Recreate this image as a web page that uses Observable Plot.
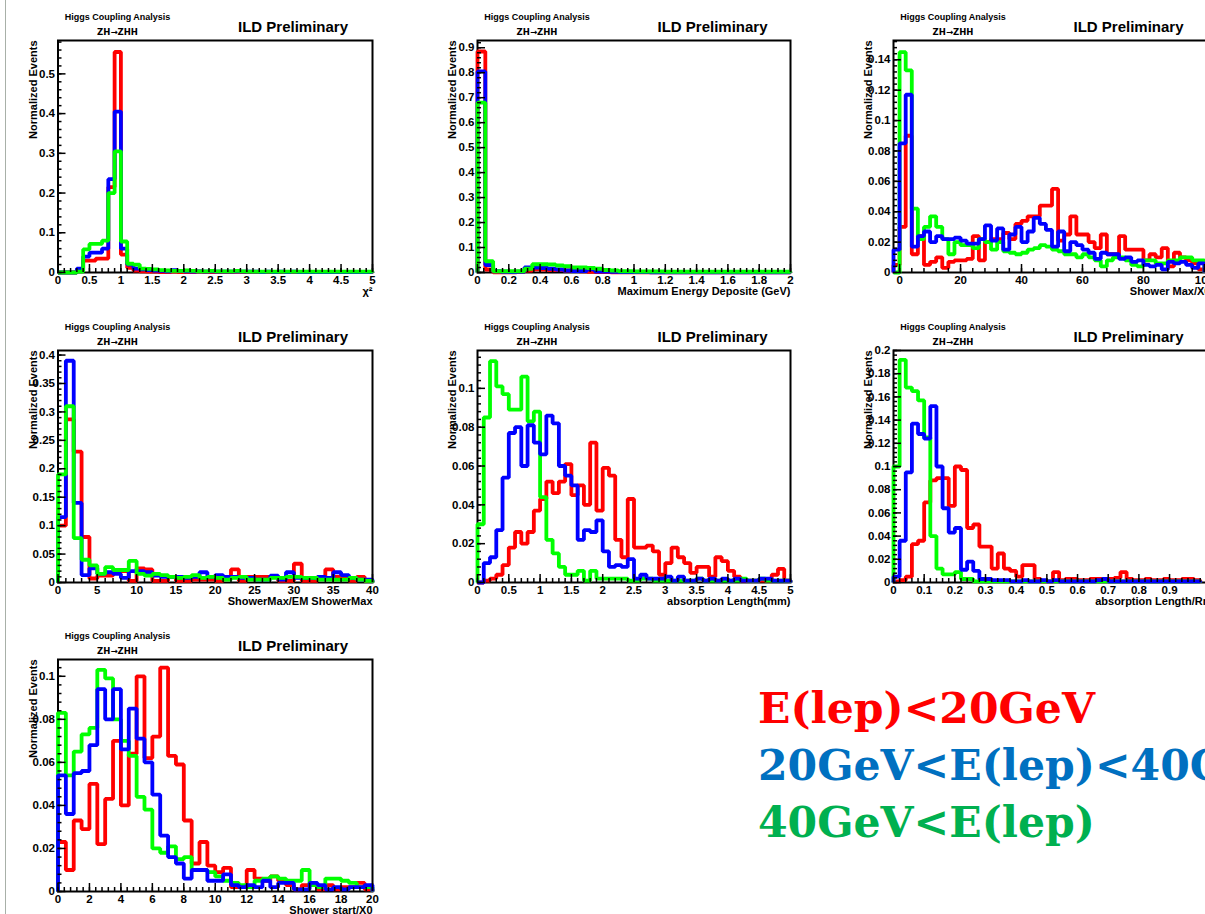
<!DOCTYPE html>
<html><head><meta charset="utf-8">
<script src="https://cdn.jsdelivr.net/npm/d3@7"></script>
<script src="https://cdn.jsdelivr.net/npm/@observablehq/plot@0.6"></script>
<style>
html,body{margin:0;padding:0;background:#fff;}
body{width:1205px;height:914px;overflow:hidden;position:relative;}
.panel{position:absolute;}
.panel svg{max-width:none !important;}
#edge{position:absolute;left:5px;top:0;width:1px;height:914px;background:#a8b0a8;}
#legend{position:absolute;left:740px;top:670px;overflow:visible;}
</style></head><body>
<div id="edge"></div>
<div id="root"></div>
<svg id="legend" width="480" height="190"></svg>
<script>
// ---------- series ----------
const seriesNames = ["E(lep)<20GeV", "20GeV<E(lep)<40GeV", "40GeV<E(lep)"];
const lineColors = {red: "#ff0000", blue: "#0000ff", green: "#00ff00"};
const legendColors = ["#ff0000", "#0070c0", "#00b050"];

// ---------- panel 1 : chi2 ----------
const p1Bins = {start: 0, width: 0.1};
const p1Red = [0,0,0,0.005,0.03,0.03,0.035,0.035,0.215,0.555, 0.045,0.012,0.005,0.003,0.002,0.002,0.001,0.001,0.002,0.001, 0.001,0.001,0.002,0.001,0.001,0.001,0.001,0.001,0.002,0.001, 0.001,0.001,0.001,0.001,0.001,0.001,0.001,0.001,0.001,0.001, 0.001,0.001,0.001,0.001,0.001,0.001,0.001,0.001,0.001,0.001];
const p1Blue = [0,0,0,0.01,0.04,0.05,0.05,0.06,0.235,0.405, 0.06,0.02,0.01,0.008,0.006,0.005,0.004,0.003,0.006,0.004, 0.003,0.002,0.003,0.002,0.003,0.002,0.002,0.002,0.003,0.002, 0.002,0.002,0.001,0.002,0.001,0.002,0.001,0.002,0.001,0.001, 0.001,0.001,0.001,0.001,0.001,0.001,0.001,0.001,0.001,0.001];
const p1Green = [0,0,0,0.002,0.058,0.072,0.072,0.08,0.2,0.305, 0.078,0.022,0.02,0.01,0.009,0.008,0.006,0.005,0.004,0.004, 0.005,0.004,0.003,0.003,0.004,0.003,0.003,0.003,0.004,0.003, 0.002,0.002,0.002,0.002,0.002,0.002,0.002,0.002,0.002,0.002, 0.002,0.002,0.002,0.002,0.002,0.002,0.002,0.002,0.002,0.002];
const p1XTicks = [0,0.5,1,1.5,2,2.5,3,3.5,4,4.5,5];
const p1YTicks = [0,0.1,0.2,0.3,0.4,0.5];

// ---------- panel 2 : maximum energy deposite ----------
const p2Bins = {start: 0, width: 0.05};
const p2Red = [0.885,0.012,0.001,0.001,0.001,0.002,0.008,0.013,0.012,0.01, 0.01,0.008,0.006,0.005,0.003,0.002,0.002,0.001,0.001,0.001, 0.001,0.001,0.001,0.001,0.001,0.001,0.001,0.001,0.001,0.001, 0.001,0.001,0.001,0.001,0.001,0.001,0.001,0.001,0.001,0.001];
const p2Blue = [0.805,0.03,0.005,0.003,0.002,0.003,0.02,0.02,0.018,0.015, 0.012,0.008,0.006,0.006,0.013,0.004,0.004,0.003,0.002,0.002, 0.002,0.002,0.001,0.001,0.001,0.001,0.001,0.001,0.001,0.001, 0.001,0.001,0.001,0.001,0.001,0.001,0.001,0.001,0.001,0.001];
const p2Green = [0.68,0.045,0.005,0.005,0.005,0.005,0.015,0.033,0.033,0.032, 0.028,0.025,0.02,0.02,0.018,0.015,0.01,0.008,0.005,0.005, 0.004,0.004,0.004,0.004,0.003,0.003,0.003,0.003,0.003,0.003, 0.003,0.003,0.003,0.003,0.003,0.003,0.003,0.003,0.003,0.003];
const p2XTicks = [0,0.2,0.4,0.6,0.8,1,1.2,1.4,1.6,1.8,2];
const p2YTicks = [0,0.1,0.2,0.3,0.4,0.5,0.6,0.7,0.8,0.9];

// ---------- panel 3 : shower max / X0 ----------
const p3Bins = {start: -2, width: 2};
const p3Red = [0.005,0.03,0.09,0.012,0.024,0.005,0.007,0.01,0.003,0.007, 0.008,0.008,0.009,0.024,0.008,0.02,0.022,0.022,0.026,0.022, 0.032,0.034,0.037,0.037,0.044,0.044,0.055,0.021,0.025,0.037, 0.025,0.025,0.02,0.016,0.025,0.012,0.012,0.024,0.015,0.015, 0.015,0.008,0.012,0.01,0.016,0.004,0.013,0.01,0.008,0.006, 0.002];
const p3Blue = [0.015,0.085,0.117,0.017,0.024,0.027,0.02,0.024,0.022,0.022, 0.023,0.021,0.019,0.019,0.022,0.031,0.021,0.029,0.015,0.025, 0.03,0.02,0.027,0.036,0.032,0.028,0.017,0.027,0.014,0.02, 0.018,0.015,0.013,0.009,0.013,0.012,0.012,0.009,0.01,0.007, 0.008,0.005,0.004,0.005,0.002,0.007,0.006,0.007,0.005,0.003, 0.006];
const p3Green = [0,0.145,0.133,0.042,0.022,0.03,0.037,0.03,0.022,0.012, 0.02,0.018,0.018,0.016,0.022,0.02,0.015,0.02,0.014,0.013, 0.012,0.013,0.015,0.016,0.018,0.017,0.015,0.014,0.012,0.012, 0.01,0.012,0.01,0.008,0.004,0.008,0.01,0.01,0.008,0.005, 0.004,0.008,0.008,0.006,0.006,0.008,0.008,0.01,0.01,0.008, 0.008];
const p3XTicks = [0,20,40,60,80,100];
const p3YTicks = [0,0.02,0.04,0.06,0.08,0.1,0.12,0.14];

// ---------- panel 4 : showerMax / EM showerMax ----------
const p4Bins = {start: 0, width: 1};
const p4Red = [0.1,0.287,0.23,0.08,0.007,0.012,0.012,0.02,0.02,0.003, 0.025,0.023,0.003,0.003,0.01,0.003,0.003,0.005,0.005,0.005, 0.003,0.01,0.023,0.003,0.01,0.01,0.01,0.01,0.003,0.003, 0.033,0.003,0.003,0.01,0.023,0.01,0.01,0.003,0.01,0.003];
const p4Blue = [0.115,0.39,0.14,0.013,0.025,0.015,0.018,0.015,0.008,0.02, 0.02,0.018,0.012,0.01,0.01,0.01,0.008,0.01,0.018,0.01, 0.013,0.01,0.01,0.008,0.008,0.005,0.005,0.012,0.005,0.018, 0.008,0.008,0.008,0.01,0.008,0.018,0.013,0.008,0.005,0.005];
const p4Green = [0.19,0.31,0.078,0.04,0.03,0.015,0.027,0.022,0.022,0.038, 0.015,0.012,0.015,0.013,0.01,0.008,0.01,0.013,0.008,0.01, 0.008,0.005,0.008,0.01,0.005,0.005,0.005,0.008,0.008,0.01, 0.01,0.008,0.008,0.005,0.005,0.005,0.005,0.008,0.005,0.003];
const p4XTicks = [0,5,10,15,20,25,30,35,40];
const p4YTicks = [0,0.05,0.1,0.15,0.2,0.25,0.3,0.35,0.4];

// ---------- panel 5 : absorption length (mm) ----------
const p5Bins = {start: 0, width: 0.1};
const p5Red = [0,0.001,0.002,0.004,0.009,0.018,0.026,0.02,0.026,0.037, 0.043,0.052,0.046,0.052,0.061,0.045,0.05,0.04,0.072,0.037, 0.059,0.055,0.022,0.013,0.043,0.018,0.018,0.019,0.016,0.004, 0.01,0.018,0.013,0.01,0.005,0.008,0.008,0.003,0.013,0.011, 0.006,0.003,0.001,0.001,0.001,0.001,0.001,0.004,0.007,0.001];
const p5Blue = [0,0.01,0.013,0.027,0.054,0.077,0.08,0.06,0.081,0.072, 0.066,0.086,0.082,0.06,0.055,0.05,0.022,0.027,0.026,0.032, 0.016,0.008,0.009,0.008,0.012,0.002,0.004,0.002,0.002,0.002, 0.003,0.001,0.003,0.001,0.001,0.002,0.001,0.002,0.001,0.002, 0.001,0.002,0.001,0.001,0.001,0.002,0.002,0.001,0.001,0.001];
const p5Green = [0.03,0.085,0.114,0.101,0.097,0.089,0.089,0.106,0.083,0.088, 0.044,0.022,0.015,0.008,0.004,0.004,0.006,0.001,0.006,0.002, 0.002,0.002,0.002,0.002,0.001,0.001,0.002,0.002,0.001,0.001, 0.001,0.001,0.001,0.001,0.001,0.002,0.001,0.001,0.001,0.001, 0.001,0.001,0.002,0.001,0.001,0.002,0.001,0.001,0.001,0.001];
const p5XTicks = [0,0.5,1,1.5,2,2.5,3,3.5,4,4.5,5];
const p5YTicks = [0,0.02,0.04,0.06,0.08,0.1];

// ---------- panel 6 : absorption length / Rm ----------
const p6Bins = {start: 0, width: 0.02};
const p6Red = [0.001,0.002,0.005,0.033,0.036,0.069,0.088,0.09,0.09,0.066, 0.1,0.097,0.047,0.05,0.031,0.031,0.012,0.025,0.012,0.01, 0.005,0.015,0.015,0.003,0.001,0.001,0.009,0.002,0.003,0.003, 0.002,0.002,0.003,0.003,0.003,0.003,0.004,0.009,0.003,0.002, 0.002,0.003,0.002,0.002,0.003,0.002,0.002,0.003,0.003,0.002];
const p6Blue = [0.005,0.036,0.095,0.137,0.128,0.124,0.152,0.1,0.064,0.043, 0.047,0.011,0.018,0.01,0.003,0.003,0.002,0.002,0.002,0.001, 0.001,0.002,0.001,0.001,0.002,0.001,0.002,0.001,0.001,0.001, 0.001,0.001,0.001,0.002,0.003,0.001,0.001,0.001,0.001,0.001, 0.001,0.001,0.001,0.001,0.001,0.001,0.001,0.001,0.001,0.001];
const p6Green = [0.1,0.192,0.168,0.165,0.157,0.125,0.04,0.012,0.007,0.007, 0.009,0.003,0.003,0.001,0.001,0.001,0.001,0.001,0.001,0.001, 0.001,0.001,0.001,0.001,0.001,0.001,0.001,0.001,0.001,0.001, 0.001,0.001,0.001,0.001,0.001,0.001,0.001,0.001,0.001,0.001, 0.001,0.001,0.001,0.001,0.001,0.001,0.001,0.001,0.001,0.001];
const p6XTicks = [0,0.1,0.2,0.3,0.4,0.5,0.6,0.7,0.8,0.9];
const p6YTicks = [0,0.02,0.04,0.06,0.08,0.1,0.12,0.14,0.16,0.18,0.2];

// ---------- panel 7 : shower start / X0 ----------
const p7Bins = {start: 0, width: 0.5};
const p7Red = [0.023,0.01,0.033,0.029,0.05,0.022,0.043,0.07,0.04,0.064, 0.1,0.062,0.072,0.104,0.063,0.059,0.033,0.013,0.023,0.012, 0.009,0.011,0.002,0.002,0.01,0.006,0.005,0.007,0.005,0.003, 0.001,0.003,0.003,0.001,0.003,0.001,0.002,0.002,0.004,0.001];
const p7Blue = [0.054,0.036,0.055,0.056,0.068,0.094,0.08,0.094,0.066,0.085, 0.071,0.06,0.045,0.026,0.016,0.013,0.006,0.01,0.01,0.005, 0.005,0.008,0.003,0.002,0.003,0.002,0.005,0.002,0.004,0.004, 0.001,0.001,0.004,0.003,0.001,0.002,0.001,0.002,0.002,0.003];
const p7Green = [0.083,0.054,0.065,0.073,0.076,0.103,0.099,0.08,0.07,0.063, 0.044,0.038,0.02,0.018,0.021,0.015,0.016,0.01,0.01,0.009, 0.007,0.005,0.004,0.003,0.002,0.005,0.006,0.007,0.006,0.005, 0.005,0.01,0.003,0.002,0.006,0.006,0.005,0.004,0.002,0.002];
const p7XTicks = [0,2,4,6,8,10,12,14,16,18,20];
const p7YTicks = [0,0.02,0.04,0.06,0.08,0.1];

const panelTitle = "Higgs Coupling Analysis";
const panelSubtitle = "ZH\u2192ZHH";
const panelTag = "ILD Preliminary";
const yLabel = "Normalized Events";
const xLabels = ["\u03C7\u00B2", "Maximum Energy Deposite (GeV)", "Shower Max/X0", "ShowerMax/EM ShowerMax", "absorption Length(mm)", "absorption Length/Rm", "Shower start/X0"];

// ---------- layout ----------
const panels = [
  {bins:p1Bins, red:p1Red, blue:p1Blue, green:p1Green, xt:p1XTicks, yt:p1YTicks, xd:[0,5],    yd:[0,0.584],  xm:0.1,  ym:0.02,  order:["red","blue","green"], left:0,   top:0,     w:390, mL:57.5, mR:18},
  {bins:p2Bins, red:p2Red, blue:p2Blue, green:p2Green, xt:p2XTicks, yt:p2YTicks, xd:[0,2],    yd:[0,0.929],  xm:0.04, ym:0.02,  order:["red","blue","green"], left:410, top:0,     w:400, mL:67,   mR:20},
  {bins:p3Bins, red:p3Red, blue:p3Blue, green:p3Green, xt:p3XTicks, yt:p3YTicks, xd:[-2,102], yd:[0,0.1527], xm:4,    ym:0.004, order:["red","green","blue"], left:830, top:0,     w:390, mL:63,   mR:10},
  {bins:p4Bins, red:p4Red, blue:p4Blue, green:p4Green, xt:p4XTicks, yt:p4YTicks, xd:[0,40],   yd:[0,0.408],  xm:1,    ym:0.01,  order:["red","blue","green"], left:0,   top:309.5, w:390, mL:57.5, mR:18},
  {bins:p5Bins, red:p5Red, blue:p5Blue, green:p5Green, xt:p5XTicks, yt:p5YTicks, xd:[0,5],    yd:[0,0.1195], xm:0.1,  ym:0.004, order:["red","green","blue"], left:410, top:309.5, w:400, mL:67,   mR:20},
  {bins:p6Bins, red:p6Red, blue:p6Blue, green:p6Green, xt:p6XTicks, yt:p6YTicks, xd:[0,1.04], yd:[0,0.2],    xm:0.02, ym:0.004, order:["red","green","blue"], left:830, top:309.5, w:390, mL:63,   mR:8},
  {bins:p7Bins, red:p7Red, blue:p7Blue, green:p7Green, xt:p7XTicks, yt:p7YTicks, xd:[0,20],   yd:[0,0.1078], xm:0.4,  ym:0.004, order:["red","green","blue"], left:0,   top:618.5, w:390, mL:57.5, mR:18}
];

const H = 305, mT = 40, mB = 33;
const fmt = d3.format("~g");

function stepPoints(bins, vals) {
  const pts = [{x: bins.start, y: 0}];
  vals.forEach((v, k) => pts.push({x: bins.start + k * bins.width, y: v}));
  const end = bins.start + vals.length * bins.width;
  pts.push({x: end, y: vals[vals.length - 1]});
  pts.push({x: end, y: 0});
  return pts;
}
function ticksBetween(a, b, s) {
  const n = Math.floor((b - a) / s + 1e-6);
  return d3.range(n + 1).map(i => +(a + i * s).toFixed(6));
}

const root = document.getElementById("root");
panels.forEach((p, i) => {
  const innerH = H - mT - mB;
  const innerW = p.w - p.mL - p.mR;
  const x0 = Math.ceil(p.xd[0] / p.xm - 1e-6) * p.xm;
  const xMinor = ticksBetween(x0, p.xd[1], p.xm);
  const yMinor = ticksBetween(0, p.yd[1], p.ym);
  const lines = p.order.map(c => Plot.line(stepPoints(p.bins, p[c]), {
    x: "x", y: "y", curve: "step-after", stroke: lineColors[c], strokeWidth: 3.8,
    strokeLinejoin: "miter", strokeLinecap: "butt"
  }));
  const chart = Plot.plot({
    width: p.w, height: H,
    marginLeft: p.mL, marginRight: p.mR, marginTop: mT, marginBottom: mB,
    style: "font-family:'Liberation Sans',Arial,sans-serif;font-size:11.5px;font-weight:bold;overflow:visible;background:transparent;color:#000;max-width:none;",
    x: {domain: p.xd},
    y: {domain: p.yd},
    marks: [
      Plot.frame({stroke: "#000", strokeWidth: 2}),
      ...lines,
      Plot.tickX(xMinor, {x: d => d, insetTop: innerH - 4, stroke: "#000", strokeWidth: 1.5}),
      Plot.tickX(p.xt, {x: d => d, insetTop: innerH - 8, stroke: "#000", strokeWidth: 1.5}),
      Plot.tickY(yMinor, {y: d => d, insetRight: innerW - 4, stroke: "#000", strokeWidth: 1.5}),
      Plot.tickY(p.yt, {y: d => d, insetRight: innerW - 8, stroke: "#000", strokeWidth: 1.5}),
      Plot.axisX({ticks: p.xt, tickSize: 0, tickPadding: 3, tickFormat: fmt, label: null, fontSize: 11.5}),
      Plot.axisY({ticks: p.yt, tickSize: 0, tickPadding: 3, tickFormat: fmt, label: null, fontSize: 11.5}),
      Plot.text([panelTitle], {text: d => d, frameAnchor: "top-left", lineAnchor: "middle", dx: 59.5, dy: -23, textAnchor: "middle", fontSize: 9, fontWeight: "bold"}),
      Plot.text([panelSubtitle], {text: d => d, frameAnchor: "top-left", lineAnchor: "middle", dx: 59.5, dy: -8.5, textAnchor: "middle", fontSize: 8.5, fontWeight: "bold", fontFamily: "'DejaVu Sans','Liberation Sans',sans-serif"}),
      Plot.text([panelTag], {text: d => d, frameAnchor: "top-left", lineAnchor: "middle", dx: 180, dy: -13, textAnchor: "start", fontSize: 15, fontWeight: "bold"}),
      Plot.text([yLabel], {text: d => d, frameAnchor: "top-left", lineAnchor: "middle", dx: -25, dy: 0, rotate: -90, textAnchor: "end", fontSize: 11, fontWeight: "bold"}),
      Plot.text([xLabels[i]], {text: d => d, frameAnchor: "bottom-right", lineAnchor: "middle", dx: 0, dy: 19, textAnchor: "end", fontSize: 11, fontWeight: "bold"})
    ]
  });
  const div = document.createElement("div");
  div.className = "panel";
  div.style.left = p.left + "px";
  div.style.top = p.top + "px";
  div.style.width = p.w + "px";
  div.style.height = H + "px";
  div.appendChild(chart);
  root.appendChild(div);
});

// ---------- legend ----------
const lg = d3.select("#legend");
const baselines = [53, 110, 167];
const fs0 = 40;
const lt = lg.selectAll("text").data(seriesNames).join("text")
  .attr("x", 18).attr("y", (d, i) => baselines[i])
  .attr("fill", (d, i) => legendColors[i])
  .attr("font-family", "'DejaVu Serif', 'Liberation Serif', serif")
  .attr("font-weight", "bold").attr("font-size", fs0)
  .text(d => d);
const w0 = lt.nodes()[0].getComputedTextLength();
lt.attr("font-size", fs0 * 337 / w0);
</script>
</body></html>
